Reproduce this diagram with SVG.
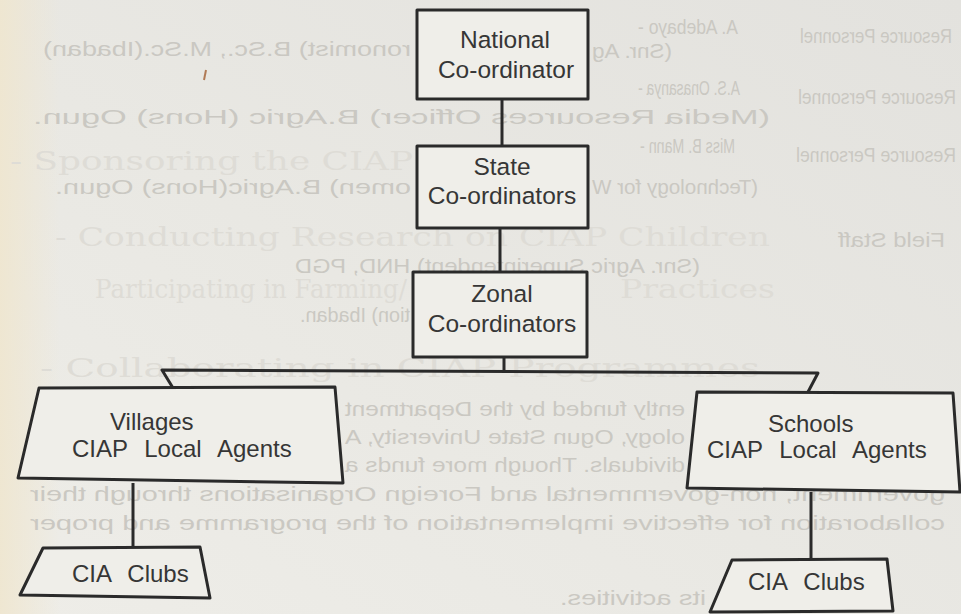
<svg xmlns="http://www.w3.org/2000/svg" width="961" height="614" viewBox="0 0 961 614">
<defs>
<linearGradient id="paper" x1="1" y1="0" x2="0" y2="1">
<stop offset="0" stop-color="#e3e2de"/>
<stop offset="0.55" stop-color="#e9e8e3"/>
<stop offset="1" stop-color="#eeede8"/>
</linearGradient>
<linearGradient id="edge" x1="0" y1="0" x2="1" y2="0">
<stop offset="0" stop-color="#efe6cf" stop-opacity="0.9"/>
<stop offset="1" stop-color="#efe6cf" stop-opacity="0"/>
</linearGradient>
<style>
.bt{font-family:"Liberation Sans",Arial,sans-serif;font-size:21px;fill:#cac8c2}
.sf{font-family:"DejaVu Serif","Liberation Serif",serif;font-size:26px;fill:#dedcd6}
.lbl{font-family:"Liberation Sans",Arial,sans-serif;font-size:24.5px;fill:#363636;text-anchor:middle}
.lbs{font-family:"Liberation Sans",Arial,sans-serif;font-size:24px;fill:#363636;word-spacing:10px}
.box{fill:#efeee9;stroke:#2a2a2a;stroke-width:3;stroke-linejoin:round}
.con{fill:none;stroke:#2a2a2a;stroke-width:3;stroke-linejoin:round}
</style>
</defs>
<rect x="0" y="0" width="961" height="614" fill="url(#paper)"/>
<rect x="0" y="0" width="60" height="614" fill="url(#edge)"/>

<g id="background-text">
<g class="sf">
<text x="10" y="170" textLength="403" lengthAdjust="spacingAndGlyphs">- Sponsoring the CIAP</text>
<text x="55" y="246" textLength="715" lengthAdjust="spacingAndGlyphs">- Conducting Research on CIAP Children</text>
<text x="95" y="298" textLength="312" lengthAdjust="spacingAndGlyphs">Participating in Farming/</text>
<text x="620" y="298" textLength="155" lengthAdjust="spacingAndGlyphs">Practices</text>
<text x="40" y="377" textLength="720" lengthAdjust="spacingAndGlyphs">- Collaborating in CIAP Programmes</text>
</g>
<g class="bt">
<text transform="scale(-1,1)" x="-952" y="43" textLength="152" lengthAdjust="spacingAndGlyphs">Resource Personnel</text>
<text transform="scale(-1,1)" x="-738" y="34" textLength="100" lengthAdjust="spacingAndGlyphs">A. Adebayo  -</text>
<text transform="scale(-1,1)" x="-672" y="58" textLength="80" lengthAdjust="spacingAndGlyphs">(Snr. Ag</text>
<text transform="scale(-1,1)" x="-411" y="56" textLength="368" lengthAdjust="spacingAndGlyphs">ronomist) B.Sc., M.Sc.(Ibadan)</text>
<text transform="scale(-1,1)" x="-956" y="104" textLength="158" lengthAdjust="spacingAndGlyphs">Resource Personnel</text>
<text transform="scale(-1,1)" x="-740" y="95" textLength="102" lengthAdjust="spacingAndGlyphs">A.S. Onasanya  -</text>
<text transform="scale(-1,1)" x="-770" y="124" textLength="737" lengthAdjust="spacingAndGlyphs">(Media Resources Officer) B.Agric (Hons) Ogun.</text>
<text transform="scale(-1,1)" x="-956" y="162" textLength="160" lengthAdjust="spacingAndGlyphs">Resource Personnel</text>
<text transform="scale(-1,1)" x="-735" y="153" textLength="95" lengthAdjust="spacingAndGlyphs">Miss B. Mann  -</text>
<text transform="scale(-1,1)" x="-758" y="194" textLength="166" lengthAdjust="spacingAndGlyphs">(Technology for W</text>
<text transform="scale(-1,1)" x="-411" y="194" textLength="356" lengthAdjust="spacingAndGlyphs">omen) B.Agric(Hons) Ogun.</text>
<text transform="scale(-1,1)" x="-945" y="247" textLength="107" lengthAdjust="spacingAndGlyphs">Field Staff</text>
<text transform="scale(-1,1)" x="-700" y="273" textLength="405" lengthAdjust="spacingAndGlyphs">(Snr. Agric Superintendent) HND, PGD</text>
<text transform="scale(-1,1)" x="-410" y="322" textLength="110" lengthAdjust="spacingAndGlyphs">tion) Ibadan.</text>
<text transform="scale(-1,1)" x="-685" y="416" textLength="340" lengthAdjust="spacingAndGlyphs">ently funded by the Department</text>
<text transform="scale(-1,1)" x="-685" y="444" textLength="340" lengthAdjust="spacingAndGlyphs">ology, Ogun State University, A</text>
<text transform="scale(-1,1)" x="-685" y="472" textLength="340" lengthAdjust="spacingAndGlyphs">dividuals. Though more funds a</text>
<text transform="scale(-1,1)" x="-945" y="501" textLength="915" lengthAdjust="spacingAndGlyphs">government, non-governmental and Foreign Organisations through their</text>
<text transform="scale(-1,1)" x="-945" y="530" textLength="915" lengthAdjust="spacingAndGlyphs">collaboration for effective implementation of the programme and proper</text>
<text transform="scale(-1,1)" x="-706" y="605" textLength="146" lengthAdjust="spacingAndGlyphs">its activities.</text>
</g>
<path d="M206 70 l-2 10" stroke="#b07a55" stroke-width="2" fill="none"/>
</g>

<g id="connectors">
<line class="con" x1="502" y1="99" x2="502" y2="146"/>
<line class="con" x1="500" y1="228" x2="500" y2="272"/>
<line class="con" x1="504" y1="357" x2="504" y2="371"/>
<polyline class="con" points="173,388 162,370 818,373 808,392"/>
<line class="con" x1="133" y1="483" x2="133" y2="548"/>
<line class="con" x1="811" y1="492" x2="811" y2="560"/>
</g>

<g id="national">
<rect class="box" x="417" y="10" width="171" height="89"/>
<text class="lbl" x="505" y="48">National</text>
<text class="lbl" x="506" y="78">Co-ordinator</text>
</g>
<g id="state">
<rect class="box" x="417" y="146" width="171" height="82"/>
<text class="lbl" x="502" y="175">State</text>
<text class="lbl" x="502" y="204">Co-ordinators</text>
</g>
<g id="zonal">
<rect class="box" x="413" y="272" width="174" height="85"/>
<text class="lbl" x="502" y="302">Zonal</text>
<text class="lbl" x="502" y="332">Co-ordinators</text>
</g>
<g id="villages">
<polygon class="box" points="39,388 335,387 343,483 18,478"/>
<text class="lbs" x="110" y="430">Villages</text>
<text class="lbs" x="72" y="457">CIAP Local Agents</text>
</g>
<g id="schools">
<polygon class="box" points="697,392 953,393 960,492 687,488"/>
<text class="lbs" x="768" y="432">Schools</text>
<text class="lbs" x="707" y="458">CIAP Local Agents</text>
</g>
<g id="clubs-left">
<polygon class="box" points="43,548 200,547 210,598 20,595"/>
<text class="lbs" x="72" y="582" font-size="23">CIA Clubs</text>
</g>
<g id="clubs-right">
<polygon class="box" points="732,560 887,559 893,611 710,612"/>
<text class="lbs" x="748" y="590" font-size="23">CIA Clubs</text>
</g>
</svg>
